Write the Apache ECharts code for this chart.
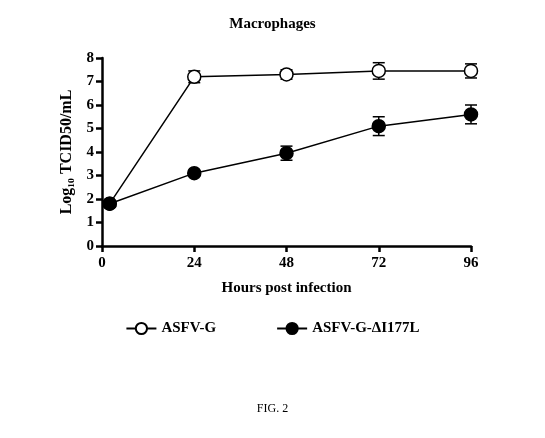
<!DOCTYPE html><html><head><meta charset="utf-8"><script src="https://cdn.jsdelivr.net/npm/echarts@6/dist/echarts.min.js"></script></head><body style="margin:0;background:#fff"><div id="c" style="width:545px;height:438px"></div><script>
const hours=[2,24,48,72,96];
const asfvG=[1.8,7.2,7.3,7.45,7.45];
const asfvGErr=[0.1,0.25,0.2,0.35,0.3];
const mut=[1.8,3.1,3.95,5.1,5.6];
const mutErr=[0.1,0.1,0.3,0.4,0.4];
const F='Liberation Serif';
function errSeries(vals,errs){return{type:'custom',silent:true,z:1,data:hours.map((h,i)=>[h,vals[i]-errs[i],vals[i]+errs[i]]),
renderItem:(p,api)=>{const lo=api.coord([api.value(0),api.value(1)]),hi=api.coord([api.value(0),api.value(2)]);const s={stroke:'#000',lineWidth:1.5};
return{type:'group',children:[{type:'line',shape:{x1:lo[0],y1:lo[1],x2:hi[0],y2:hi[1]},style:s},{type:'line',shape:{x1:lo[0]-6,y1:lo[1],x2:lo[0]+6,y2:lo[1]},style:s},{type:'line',shape:{x1:hi[0]-6,y1:hi[1],x2:hi[0]+6,y2:hi[1]},style:s}]};}};}
const c=echarts.init(document.getElementById('c'));
c.setOption({animation:false,
title:[{text:'Macrophages',left:'center',top:12,textStyle:{fontFamily:F,fontSize:15,fontWeight:'bold',color:'#000'}},
{text:'FIG. 2',left:'center',top:398,textStyle:{fontFamily:F,fontSize:12,fontWeight:'normal',color:'#000'}}],
legend:{bottom:97,left:'center',itemGap:60,itemWidth:30,itemHeight:14,textStyle:{fontFamily:F,fontSize:15,fontWeight:'bold',color:'#000'},data:['ASFV-G','ASFV-G-ΔI177L']},
grid:{left:102,right:74,top:58,bottom:192},
xAxis:{type:'value',min:0,max:96,interval:24,name:'Hours post infection',nameLocation:'middle',nameGap:35,nameTextStyle:{fontFamily:F,fontSize:15,fontWeight:'bold',color:'#000'},
axisLine:{lineStyle:{color:'#000',width:2.5}},axisTick:{lineStyle:{color:'#000',width:2.5},length:6},splitLine:{show:false},axisLabel:{fontFamily:F,fontSize:15,fontWeight:'bold',color:'#000',margin:10}},
yAxis:{type:'value',min:0,max:8,interval:1,name:'Log₁₀ TCID50/mL',nameLocation:'middle',nameGap:27,nameTextStyle:{fontFamily:F,fontSize:16,fontWeight:'bold',color:'#000'},
axisLine:{show:true,lineStyle:{color:'#000',width:2.5}},axisTick:{show:true,lineStyle:{color:'#000',width:2.5},length:6},splitLine:{show:false},axisLabel:{fontFamily:F,fontSize:15,fontWeight:'bold',color:'#000',margin:8}},
series:[errSeries(asfvG,asfvGErr),errSeries(mut,mutErr),
{name:'ASFV-G',type:'line',z:3,data:hours.map((h,i)=>[h,asfvG[i]]),symbol:'circle',symbolSize:13,lineStyle:{color:'#000',width:1.5},itemStyle:{color:'#fff',borderColor:'#000',borderWidth:1.5}},
{name:'ASFV-G-ΔI177L',type:'line',z:3,data:hours.map((h,i)=>[h,mut[i]]),symbol:'circle',symbolSize:13,lineStyle:{color:'#000',width:1.5},itemStyle:{color:'#000',borderColor:'#000',borderWidth:1.5}}]});
</script></body></html>
